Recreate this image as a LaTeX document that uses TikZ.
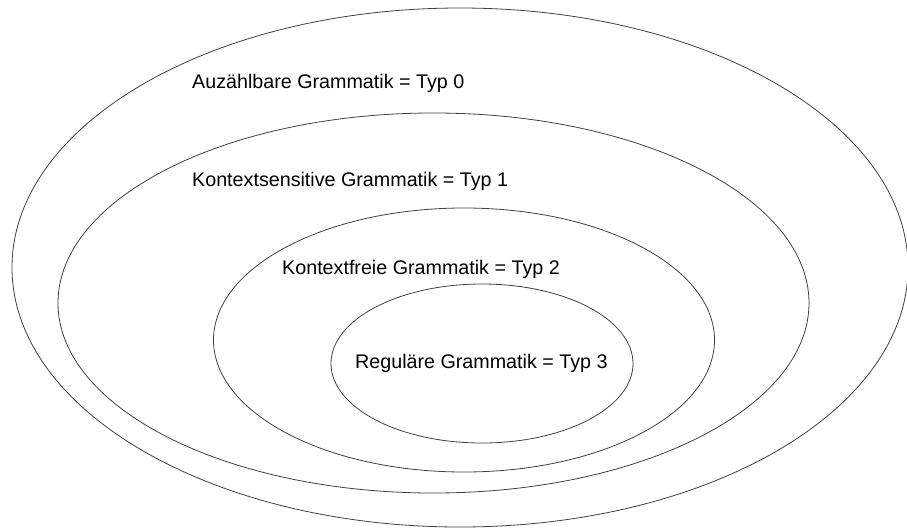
\documentclass[tikz,border=0pt]{standalone}
\usepackage{fontspec}
\setmainfont{Liberation Sans}
\begin{document}
\begin{tikzpicture}[x=1pt, y=-1pt, ring/.style={draw=black!75, line width=0.8pt},
    label/.style={anchor=base west, inner sep=0pt, font=\fontsize{19.7}{23}\selectfont}]
\useasboundingbox (0,0) rectangle (907,528);

% nested classes
\draw[ring] (460,267.5) ellipse [x radius=448, y radius=259.5];
\draw[ring] (433.5,303) ellipse [x radius=375.5, y radius=190];
\draw[ring] (464,340) ellipse [x radius=250.5, y radius=132];
\draw[ring] (482,363.5) ellipse [x radius=151, y radius=79.5];

\node[label] (typ0) at (192,88) {Auzählbare Grammatik = Typ 0};
\node[label] (typ1) at (192,186) {Kontextsensitive Grammatik = Typ 1};
\node[label] (typ2) at (282,274) {Kontextfreie Grammatik = Typ 2};
\node[label] (typ3) at (355,368) {Reguläre Grammatik = Typ 3};
\end{tikzpicture}
\end{document}
